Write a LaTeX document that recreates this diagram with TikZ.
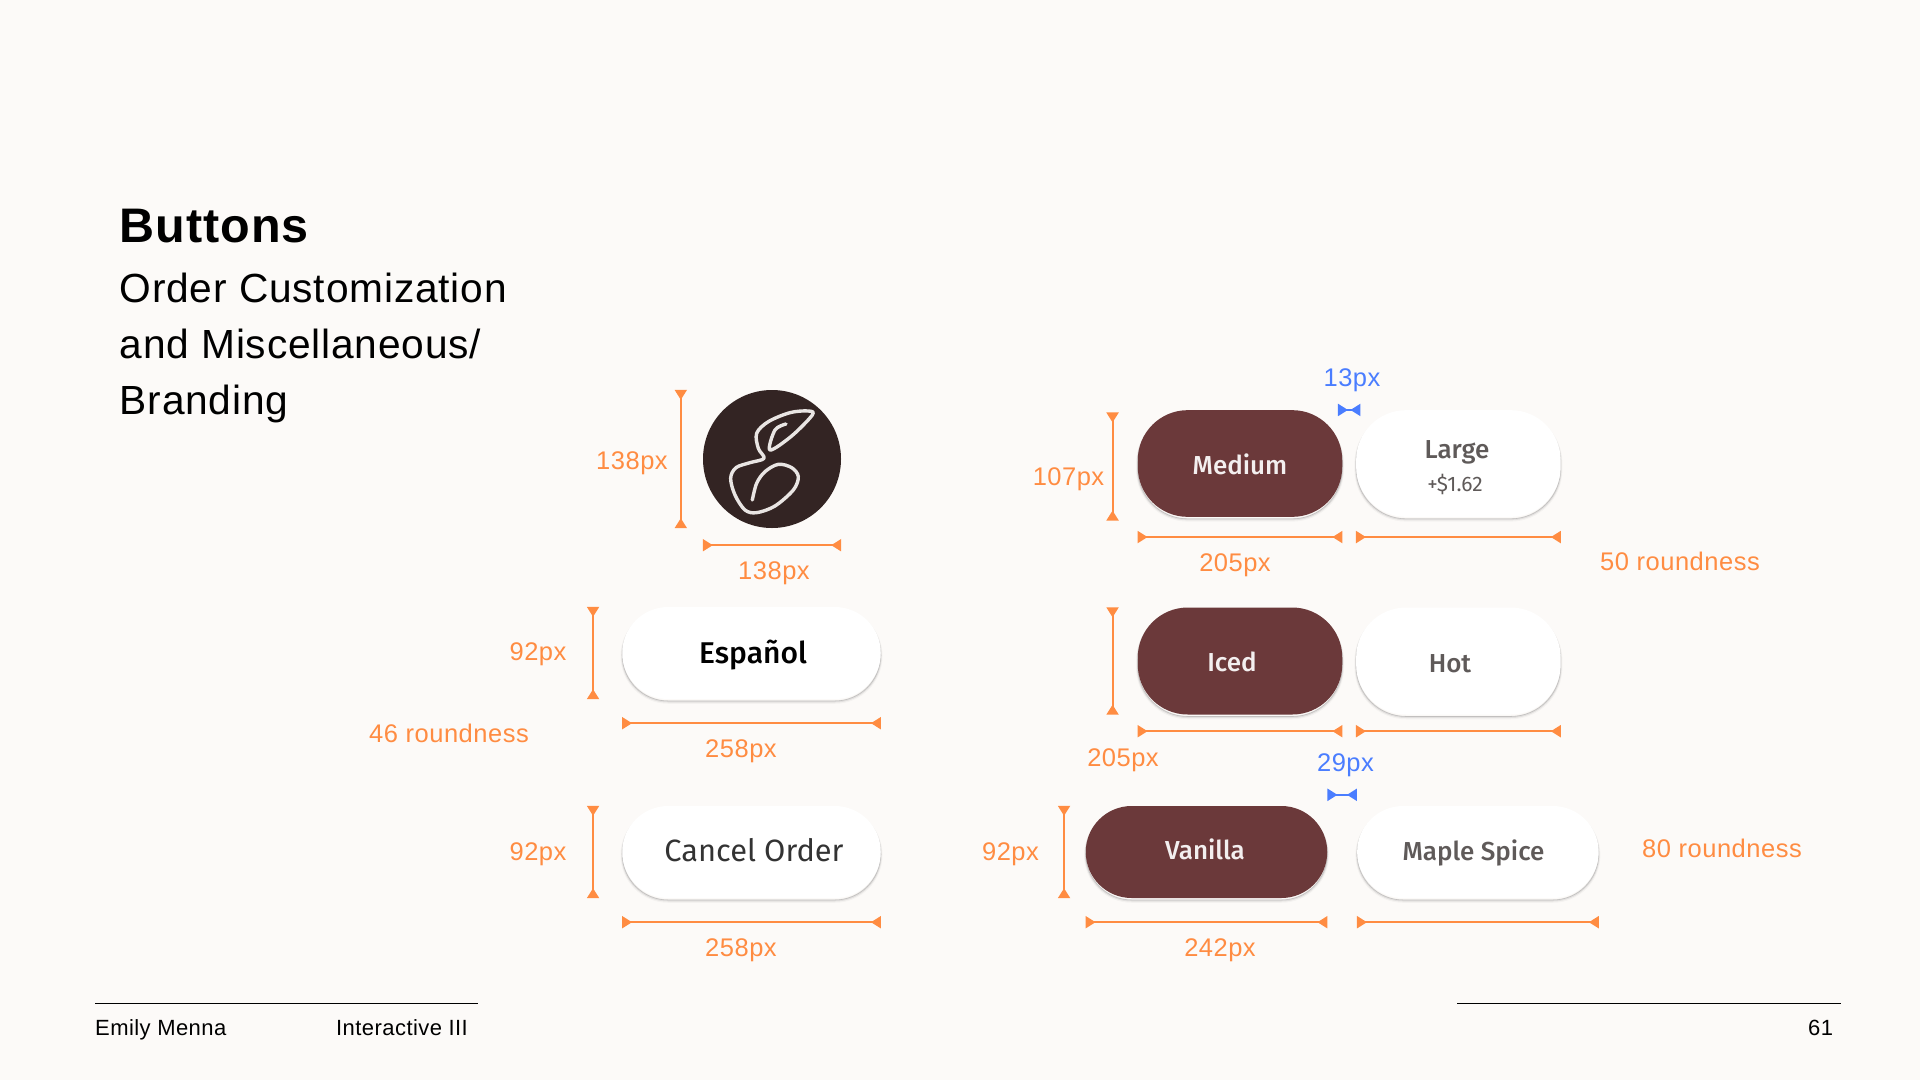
\documentclass[tikz,border=0pt]{standalone}
\usepackage{xcolor}
\usepackage{fontspec}
\setmainfont[LetterSpace=2]{Liberation Sans}
\newfontfamily\btnfont{Fira Sans Medium}
\newfontfamily\plainfont{Fira Sans}
\usetikzlibrary{arrows.meta, positioning}
\definecolor{paper}{HTML}{FCFAF8}
\definecolor{measure}{HTML}{FF8C42}
\definecolor{gap}{HTML}{4A7DFF}
\definecolor{maroon}{HTML}{6B393A}
\definecolor{bean}{HTML}{332423}
\definecolor{cream}{HTML}{E9E5E3}
\definecolor{ink}{HTML}{5F5A59}
\begin{document}
\begin{tikzpicture}[x=1pt, y=-1pt,
    btn/.style={rectangle, rounded corners=45.9pt, minimum width=258.5pt, minimum height=92pt, inner sep=0pt, fill=white,
        preaction={draw=black, opacity=.03, line width=3.5pt, transform canvas={yshift=-3pt}},
        preaction={draw=black, opacity=.07, line width=2pt, transform canvas={yshift=-2.5pt}},
        preaction={draw=black, opacity=.14, line width=.6pt, transform canvas={yshift=-2pt}}},
    sel/.style={fill=maroon},
    dim/.style={measure, line width=2pt, {Triangle[reversed,length=10pt,width=12pt]}-{Triangle[reversed,length=10pt,width=12pt]}},
    space/.style={gap, line width=2pt, {Triangle[reversed,length=10pt,width=12pt]}-{Triangle[reversed,length=10pt,width=12pt]}},
    dimtext/.style={text=measure, inner sep=0pt, anchor=base, font=\fontsize{25.5}{28}\selectfont},
    gaptext/.style={text=gap, inner sep=0pt, anchor=base, font=\fontsize{25.5}{28}\selectfont},
    lighttext/.style={text=white!92!maroon, inner sep=0pt, anchor=base, font=\btnfont\fontsize{26}{28}\selectfont},
    darktext/.style={text=ink, inner sep=0pt, anchor=base, font=\btnfont\fontsize{26}{28}\selectfont},
    foot/.style={inner sep=0pt, anchor=base west, font=\fontsize{22}{26}\selectfont}]
    \useasboundingbox (0,0) rectangle (1920,1080);
    \fill[paper] (0,0) rectangle (1920,1080);

    \node (title) [anchor=base west, inner sep=0pt, font=\bfseries\fontsize{48.5}{56}\selectfont] at (119.5,242) {Buttons};
    \node (sub1) [anchor=base west, inner sep=0pt, font=\fontsize{40.7}{46}\selectfont] at (119.5,302) {Order Customization};
    \node (sub2) [anchor=base west, inner sep=0pt, font=\fontsize{40.7}{46}\selectfont] at (119.5,358) {and Miscellaneous/};
    \node (sub3) [anchor=base west, inner sep=0pt, font=\fontsize{40.7}{46}\selectfont] at (119.5,414) {Branding};

    \node (logo) [circle, fill=bean, minimum size=138pt, inner sep=0pt] at (772,459) {};
    \begin{scope}[shift={(560,370)}, x=0.3333pt, y=-0.3333pt]
        \draw[cream, line width=3.4pt, line cap=round, line join=round] plot[smooth, tension=.55] coordinates {(678,162) (645,180) (630,240) (695,198) (757,135) (745,123) (690,128) (625,155) (590,190) (595,235) (612,265) (570,278) (528,293) (512,325) (525,375) (555,420) (590,428) (645,408) (700,360) (715,320) (695,293) (655,283) (615,305) (590,340) (577,390)};
    \end{scope}

    \node (espanol) [btn] at (751.5,653) {};
    \node (cancel) [btn] at (751.5,852) {};
    \node (medium) [btn, sel, rounded corners=50pt, minimum width=204.5pt, minimum height=106.7pt] at (1240,463.5) {};
    \node (large) [btn, rounded corners=50pt, minimum width=204.5pt, minimum height=106.7pt, right=13.5pt of medium] {};
    \node (iced) [btn, sel, rounded corners=50pt, minimum width=204.5pt, minimum height=107pt] at (1240,661) {};
    \node (hot) [btn, rounded corners=50pt, minimum width=204.5pt, minimum height=107pt, right=13.5pt of iced] {};
    \node (vanilla) [btn, sel, minimum width=241.5pt] at (1206.5,852) {};
    \node (maple) [btn, minimum width=241.5pt, right=29.5pt of vanilla] {};

    \node (espanoltext) [inner sep=0pt, anchor=base, text=black, font=\btnfont\fontsize{30}{32}\selectfont] at (753,663) {Español};
    \node (canceltext) [inner sep=0pt, anchor=base, text=black!80, font=\plainfont\fontsize{30.8}{32}\selectfont] at (754,861.5) {Cancel Order};
    \node (mediumtext) [lighttext] at (1240,474) {Medium};
    \node (largetext) [darktext] at (1457,458) {Large};
    \node (pricetext) [darktext, font=\plainfont\fontsize{21}{24}\selectfont] at (1455,491.5) {+\$1.62};
    \node (icedtext) [lighttext] at (1232,671) {Iced};
    \node (hottext) [darktext] at (1450,672) {Hot};
    \node (vanillatext) [lighttext] at (1205,859.5) {Vanilla};
    \node (mapletext) [darktext] at (1473.5,860.5) {Maple Spice};

    \draw[dim] ([xshift=-22pt]logo.north -| logo.west) -- ([xshift=-22pt]logo.south -| logo.west);
    \draw[dim] ([yshift=-17pt]logo.south -| logo.west) -- ([yshift=-17pt]logo.south -| logo.east);
    \draw[dim] ([xshift=-29pt]espanol.north west) -- ([xshift=-29pt]espanol.south west);
    \draw[dim] ([yshift=-24pt]espanol.south west) -- ([yshift=-24pt]espanol.south east);
    \draw[dim] ([xshift=-29pt]cancel.north west) -- ([xshift=-29pt]cancel.south west);
    \draw[dim] ([yshift=-24pt]cancel.south west) -- ([yshift=-24pt]cancel.south east);
    \draw[dim] ([xshift=-25pt,yshift=-2.5pt]medium.north west) -- ([xshift=-25pt,yshift=-3.5pt]medium.south west);
    \draw[dim] ([yshift=-20pt]medium.south west) -- ([yshift=-20pt]medium.south east);
    \draw[dim] ([yshift=-20pt]large.south west) -- ([yshift=-20pt]large.south east);
    \draw[dim] ([xshift=-25pt]iced.north west) -- ([xshift=-25pt]iced.south west);
    \draw[dim] ([yshift=-16.5pt]iced.south west) -- ([yshift=-16.5pt]iced.south east);
    \draw[dim] ([yshift=-16.5pt]hot.south west) -- ([yshift=-16.5pt]hot.south east);
    \draw[dim] ([xshift=-21.5pt]vanilla.north west) -- ([xshift=-21.5pt]vanilla.south west);
    \draw[dim] ([yshift=-24pt]vanilla.south west) -- ([yshift=-24pt]vanilla.south east);
    \draw[dim] ([yshift=-24pt]maple.south west) -- ([yshift=-24pt]maple.south east);
    \draw[space] ([xshift=-4.5pt]medium.north east) -- ([xshift=4.5pt]large.north west);
    \draw[space] ([yshift=11pt]vanilla.north east) -- ([yshift=11pt]maple.north west);

    \node (logoh) [dimtext] at (632,469) {138px};
    \node (logow) [dimtext] at (774,579) {138px};
    \node (esph) [dimtext] at (538,660) {92px};
    \node (round46) [dimtext] at (449,742) {46 roundness};
    \node (espw) [dimtext] at (741,757) {258px};
    \node (cancelh) [dimtext] at (538,860) {92px};
    \node (cancelw) [dimtext] at (741,956) {258px};
    \node (mediumh) [dimtext] at (1068.5,485) {107px};
    \node (mediumw) [dimtext] at (1235,571) {205px};
    \node (round50) [dimtext] at (1680,570) {50 roundness};
    \node (icedw) [dimtext] at (1123,766) {205px};
    \node (vanillah) [dimtext] at (1010.5,860) {92px};
    \node (vanillaw) [dimtext] at (1220,956) {242px};
    \node (round80) [dimtext] at (1722,857) {80 roundness};
    \node (gap13) [gaptext] at (1352,386) {13px};
    \node (gap29) [gaptext] at (1345.5,771) {29px};

    \draw[black, line width=0.8pt] (95,1003) -- (478,1003);
    \draw[black, line width=0.8pt] (1457,1003) -- (1841,1003);
    \node (author) [foot] at (95,1035) {Emily Menna};
    \node (course) [foot] at (336,1035) {Interactive III};
    \node (page) [foot] at (1808,1035) {61};
\end{tikzpicture}
\end{document}
